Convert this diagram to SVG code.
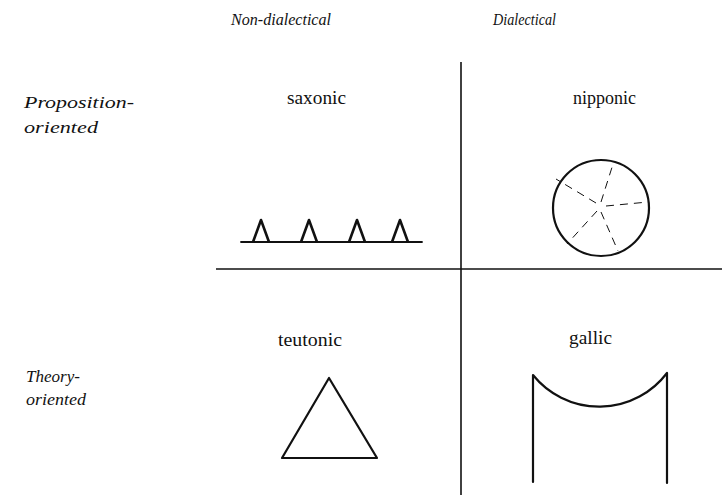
<svg xmlns="http://www.w3.org/2000/svg" width="722" height="495" viewBox="0 0 722 495">
<style>
.hd{font-family:'Liberation Serif','Times New Roman','DejaVu Serif',serif;font-style:italic;font-size:17px;fill:#111}
.lb{font-family:'Liberation Serif','Times New Roman','DejaVu Serif',serif;font-size:18px;fill:#111}
.ax{stroke:#111;stroke-width:1.6;fill:none}
.sh{stroke:#111;stroke-width:2.2;fill:none;stroke-linejoin:round;stroke-linecap:round}
.tr{stroke:#111;stroke-width:2.6;fill:none;stroke-linejoin:round}
.ds{stroke:#111;stroke-width:1;stroke-dasharray:8 6;fill:none}
</style>
<rect width="722" height="495" fill="#fff"/>
<g id="headers">
<text class="hd" x="231" y="25" textLength="100" lengthAdjust="spacingAndGlyphs">Non-dialectical</text>
<text class="hd" x="493" y="25" textLength="63" lengthAdjust="spacingAndGlyphs">Dialectical</text>
<text class="hd" x="24" y="108" textLength="110" lengthAdjust="spacingAndGlyphs">Proposition-</text>
<text class="hd" x="24" y="133" textLength="74" lengthAdjust="spacingAndGlyphs">oriented</text>
<text class="hd" x="26" y="382" textLength="54" lengthAdjust="spacingAndGlyphs">Theory-</text>
<text class="hd" x="26" y="405" textLength="60" lengthAdjust="spacingAndGlyphs">oriented</text>
</g>
<g id="axes">
<line class="ax" x1="461" y1="62" x2="461" y2="495"/>
<line class="ax" x1="216" y1="269" x2="722" y2="269"/>
</g>
<g id="saxonic">
<text class="lb" x="287" y="104" textLength="59" lengthAdjust="spacingAndGlyphs">saxonic</text>
<line class="sh" x1="241" y1="242" x2="422" y2="242" style="stroke-width:1.8"/>
<polyline class="tr" points="253,242 261,220 269,242"/>
<polyline class="tr" points="301,242 309,220 317,242"/>
<polyline class="tr" points="349,242 357,220 365,242"/>
<polyline class="tr" points="392,242 400,220 408,242"/>
</g>
<g id="nipponic">
<text class="lb" x="573" y="104" textLength="63" lengthAdjust="spacingAndGlyphs">nipponic</text>
<circle class="sh" cx="601" cy="208" r="48"/>
<line class="ds" x1="601" y1="202" x2="614" y2="161"/>
<line class="ds" x1="596" y1="203" x2="556" y2="179"/>
<line class="ds" x1="606" y1="206" x2="648" y2="202"/>
<line class="ds" x1="597" y1="211" x2="567" y2="244"/>
<line class="ds" x1="601" y1="212" x2="618" y2="251"/>
</g>
<g id="teutonic">
<text class="lb" x="278" y="346" textLength="64" lengthAdjust="spacingAndGlyphs">teutonic</text>
<polygon class="sh" points="329,378 282,458 377,458"/>
</g>
<g id="gallic">
<text class="lb" x="569" y="344" textLength="43" lengthAdjust="spacingAndGlyphs">gallic</text>
<path class="sh" d="M533,482 L533,375 A85,85 0 0 0 667,373 L667,483"/>
</g>
</svg>
